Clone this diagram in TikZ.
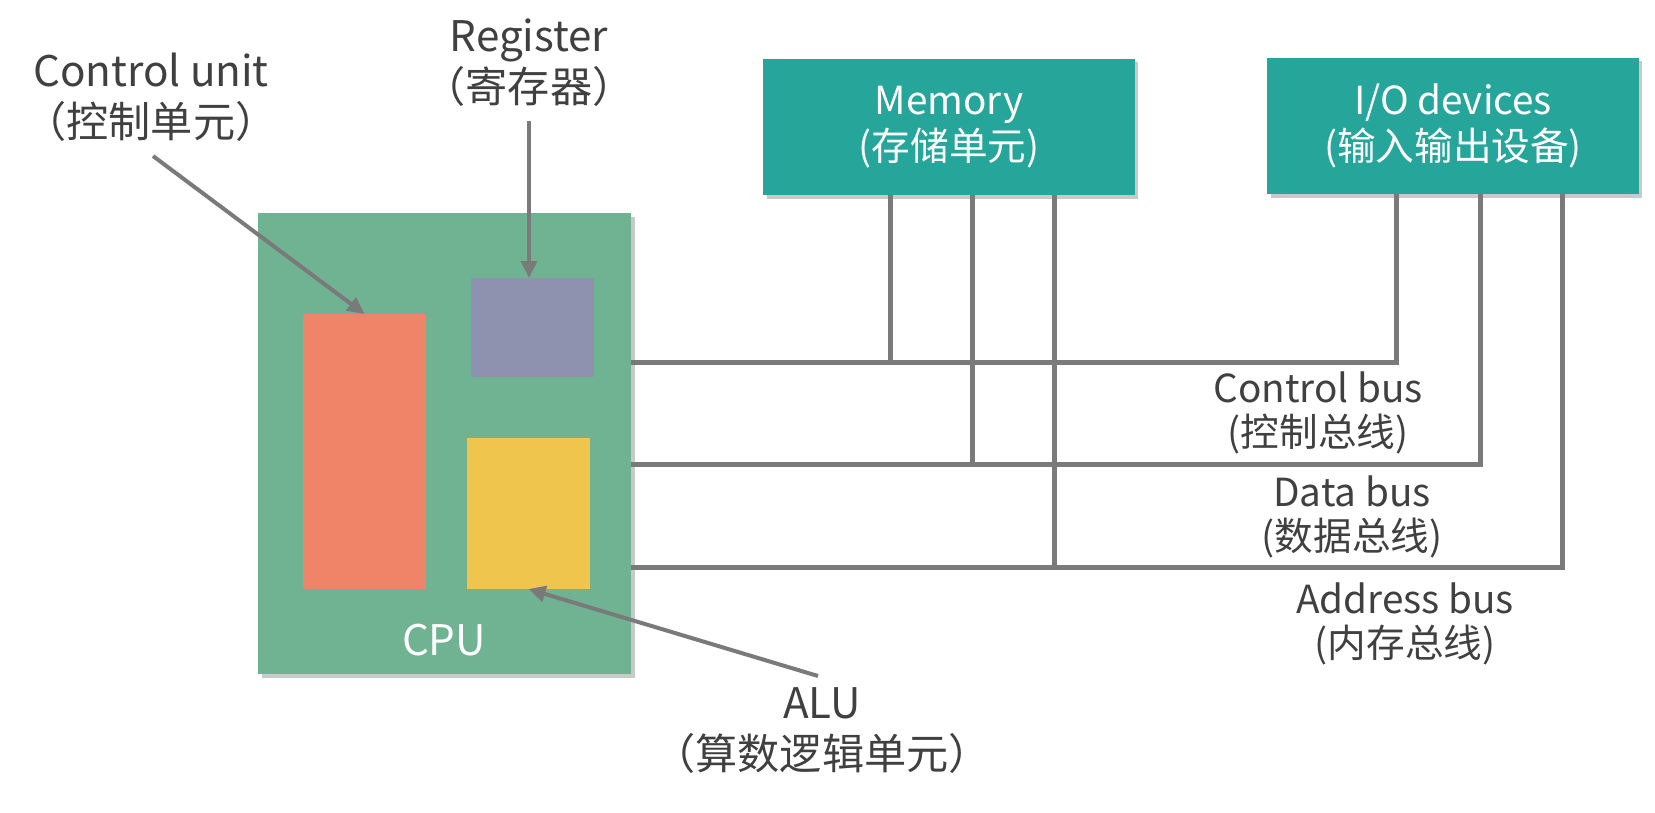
\documentclass[tikz,border=0pt]{standalone}
\usepackage{fontspec}
\setmainfont{Noto Sans CJK SC}
\usetikzlibrary{fit,shadows,arrows.meta}

\definecolor{cpugreen}{RGB}{111,179,147}
\definecolor{cuorange}{RGB}{240,132,104}
\definecolor{regpurple}{RGB}{142,146,174}
\definecolor{aluyellow}{RGB}{240,197,78}
\definecolor{boxteal}{RGB}{38,166,154}
\definecolor{wiregray}{RGB}{122,122,122}
\definecolor{labelgray}{RGB}{64,64,64}

\begin{document}
\begin{tikzpicture}[x=0.02cm,y=-0.02cm,
    block/.style={inner sep=0,outer sep=0},
    shadowed/.style={drop shadow={shadow xshift=0.07cm,shadow yshift=-0.07cm,opacity=0.3,fill=black!70}},
    unitbox/.style={block,fill=boxteal,text=white,align=center,font=\fontsize{22pt}{26pt}\selectfont,
        minimum width=7.44cm,minimum height=2.74cm,shadowed},
    caption/.style={text=labelgray,align=center,font=\fontsize{22pt}{25pt}\selectfont,inner sep=0},
    callout/.style={caption,font=\fontsize{24pt}{29pt}\selectfont},
    wire/.style={draw=wiregray,line width=0.1cm},
    pointer/.style={draw=wiregray,line width=0.08cm,-{Triangle[length=0.34cm,width=0.32cm]}}]
    \useasboundingbox (0,0) rectangle (1655,812);
    % cpu and its parts
    \node[block,fit={(258,213) (631,674)},fill=cpugreen,shadowed] (cpu) {};
    \node[block,fit={(303,314) (426,589)},fill=cuorange] (cu) {};
    \node[block,fit={(471,278) (594,377)},fill=regpurple] (reg) {};
    \node[block,fit={(467,438) (590,589)},fill=aluyellow] (alu) {};
    \node[text=white,font=\fontsize{24pt}{24pt}\selectfont] (cpulabel) at (444,640) {CPU};
    % memory and i/o
    \node[unitbox] (mem) at (949,127) {Memory\\(存储单元)};
    \node[unitbox] (io) at (1453,126) {I/O devices\\(输入输出设备)};
    % buses
    \coordinate (ctl) at (1396,362);
    \coordinate (dat) at (1480,464);
    \coordinate (adr) at (1562,567);
    \coordinate (mctl) at (890,362);
    \coordinate (mdat) at (972,464);
    \coordinate (madr) at (1054,567);
    \draw[wire] (cpu.east |- ctl) -| (ctl |- io.south);
    \draw[wire] (cpu.east |- dat) -| (dat |- io.south);
    \draw[wire] (cpu.east |- adr) -| (adr |- io.south);
    \draw[wire] (mctl |- mem.south) -- (mctl);
    \draw[wire] (mdat |- mem.south) -- (mdat);
    \draw[wire] (madr |- mem.south) -- (madr);
    \node[caption] (ctllabel) at (1318,413) {Control bus\\(控制总线)};
    \node[caption] (datlabel) at (1352,517) {Data bus\\(数据总线)};
    \node[caption] (adrlabel) at (1405,624) {Address bus\\(内存总线)};
    % pointers
    \node[callout] (culabel) at (151,97) {Control unit\\（控制单元）};
    \node[callout] (reglabel) at (529,63) {Register\\（寄存器）};
    \node[callout] (alulabel) at (822,731) {ALU\\（算数逻辑单元）};
    \coordinate (cutail) at (153,156);
    \coordinate (regtail) at (529,121);
    \coordinate (alutail) at (818,676);
    \draw[pointer] (cutail) -- (cu.north);
    \draw[pointer] (regtail) -- (regtail |- reg.north);
    \draw[pointer] (alutail) -- (alu.south);
\end{tikzpicture}
\end{document}
